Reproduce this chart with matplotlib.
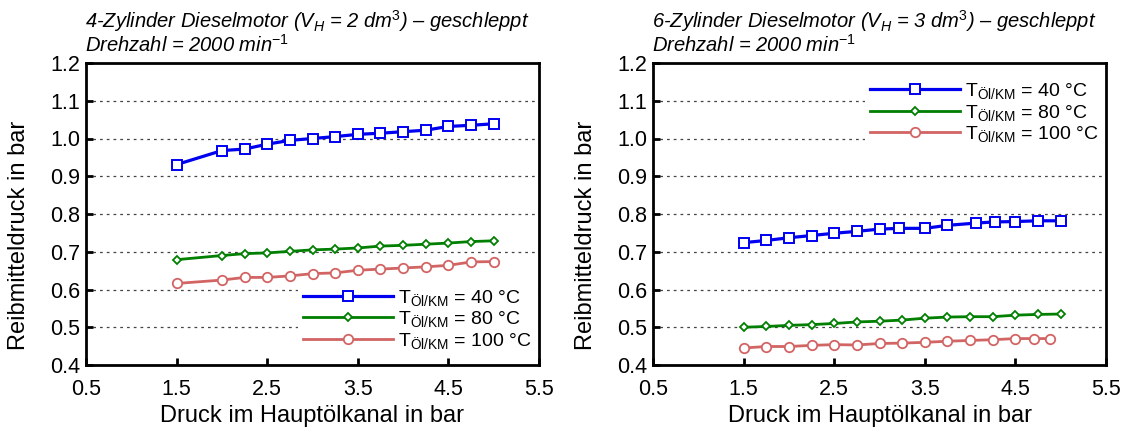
import matplotlib
matplotlib.use("Agg")
import matplotlib.pyplot as plt

plt.rcParams['font.family'] = ['Liberation Sans', 'DejaVu Sans']
plt.rcParams['mathtext.fontset'] = 'custom'
plt.rcParams['mathtext.rm'] = 'Liberation Sans'
plt.rcParams['mathtext.it'] = 'Liberation Sans:italic'
plt.rcParams['mathtext.bf'] = 'Liberation Sans:bold'

# ---- data: 4-cylinder engine ----
x4 = [1.5, 2.0, 2.25, 2.5, 2.75, 3.0, 3.25, 3.5, 3.75, 4.0, 4.25, 4.5, 4.75, 5.0]
p4_40 = [0.931, 0.968, 0.972, 0.985, 0.995, 1.000, 1.005, 1.011, 1.014, 1.018, 1.022, 1.032, 1.035, 1.039]
p4_80 = [0.679, 0.690, 0.695, 0.697, 0.701, 0.705, 0.707, 0.710, 0.715, 0.717, 0.720, 0.723, 0.727, 0.729]
p4_100 = [0.616, 0.625, 0.632, 0.632, 0.636, 0.642, 0.644, 0.651, 0.654, 0.657, 0.660, 0.664, 0.673, 0.674]

# ---- data: 6-cylinder engine ----
x6_40 = [1.5, 1.75, 2.0, 2.25, 2.5, 2.75, 3.0, 3.22, 3.5, 3.75, 4.07, 4.27, 4.5, 4.75, 5.0]
p6_40 = [0.724, 0.730, 0.737, 0.743, 0.749, 0.754, 0.760, 0.762, 0.762, 0.770, 0.776, 0.779, 0.780, 0.782, 0.782]
x6_80 = [1.5, 1.75, 2.0, 2.25, 2.5, 2.75, 3.0, 3.25, 3.5, 3.75, 4.0, 4.25, 4.5, 4.75, 5.0]
p6_80 = [0.500, 0.502, 0.505, 0.507, 0.510, 0.514, 0.516, 0.519, 0.524, 0.527, 0.528, 0.528, 0.532, 0.534, 0.535]
x6_100 = [1.5, 1.75, 2.0, 2.25, 2.5, 2.75, 3.0, 3.25, 3.5, 3.75, 4.0, 4.25, 4.5, 4.7, 4.88]
p6_100 = [0.445, 0.449, 0.449, 0.452, 0.454, 0.453, 0.457, 0.458, 0.460, 0.463, 0.465, 0.467, 0.470, 0.470, 0.470]

labels = [r'T$_{\mathrm{Öl/KM}}$ = 40 °C',
          r'T$_{\mathrm{Öl/KM}}$ = 80 °C',
          r'T$_{\mathrm{Öl/KM}}$ = 100 °C']
titles = [r'4-Zylinder Dieselmotor (V$_H$ = 2 dm$^3$) – geschleppt' + '\n' + r'Drehzahl = 2000 min$^{-1}$',
          r'6-Zylinder Dieselmotor (V$_H$ = 3 dm$^3$) – geschleppt' + '\n' + r'Drehzahl = 2000 min$^{-1}$']
xticks = [0.5, 1.5, 2.5, 3.5, 4.5, 5.5]
yticks = [0.4, 0.5, 0.6, 0.7, 0.8, 0.9, 1.0, 1.1, 1.2]

BLUE = '#0000f0'
GREEN = '#007f00'
RED = '#d26464'

styles = [dict(color=BLUE, lw=2.3, marker='s', ms=6.5, mfc='white', mec=BLUE, mew=1.4),
          dict(color=GREEN, lw=2.0, marker='D', ms=4.2, mfc='white', mec=GREEN, mew=1.3),
          dict(color=RED, lw=2.0, marker='o', ms=6.8, mfc='white', mec=RED, mew=1.3)]

fig = plt.figure(figsize=(11.25, 4.3), dpi=100)
W, H = 1125, 430

def make_axes(left_px):
    return fig.add_axes([left_px / W, (H - 365) / H, 453 / W, 302 / H])

axL = make_axes(86)
axR = make_axes(653)

series = [
    (axL, [(x4, p4_40), (x4, p4_80), (x4, p4_100)]),
    (axR, [(x6_40, p6_40), (x6_80, p6_80), (x6_100, p6_100)]),
]

for ax, data in series:
    for (xs, ys), st, lab in zip(data, styles, labels):
        ax.plot(xs, ys, label=lab, **st)
    ax.set_xlim(0.5, 5.5)
    ax.set_ylim(0.4, 1.2)
    ax.set_xticks(xticks)
    ax.set_xticklabels([f'{v:.1f}' for v in xticks])
    ax.set_yticks(yticks)
    ax.set_yticklabels([f'{v:.1f}' for v in yticks])
    for s in ax.spines.values():
        s.set_linewidth(2.0)
    ax.tick_params(direction='in', length=5, width=2, labelsize=15.5,
                   top=False, right=False)
    ax.tick_params(axis='x', pad=10)
    ax.tick_params(axis='y', pad=4)
    ax.yaxis.grid(True, linestyle=(0, (2.2, 3.2)), color='#444444', lw=0.9)
    ax.set_axisbelow(True)
    ax.set_xlabel('Druck im Hauptölkanal in bar', fontsize=17, labelpad=4)
    ax.set_ylabel('Reibmitteldruck in bar', fontsize=17)
    ax.yaxis.set_label_coords(-0.124, 0.43)

legend_kw = dict(frameon=True, fontsize=14, handlelength=4.6, handletextpad=0.25,
                 labelspacing=0.08, borderpad=0.3, borderaxespad=0.2)
legL = axL.legend(loc='lower right', bbox_to_anchor=(1.005, 0.015), **legend_kw)
legR = axR.legend(loc='upper right', bbox_to_anchor=(1.005, 0.972), **legend_kw)
for leg in (legL, legR):
    fr = leg.get_frame()
    fr.set_edgecolor('none')
    fr.set_facecolor('white')
    fr.set_alpha(1.0)
    fr.set_boxstyle('square', pad=0)

for txt, x_px in zip(titles, (85, 652)):
    fig.text(x_px / W, 1 - 8 / H, txt, fontsize=14.5, style='italic',
             va='top', ha='left', linespacing=0.98)

fig.savefig('out.png', dpi=100)
